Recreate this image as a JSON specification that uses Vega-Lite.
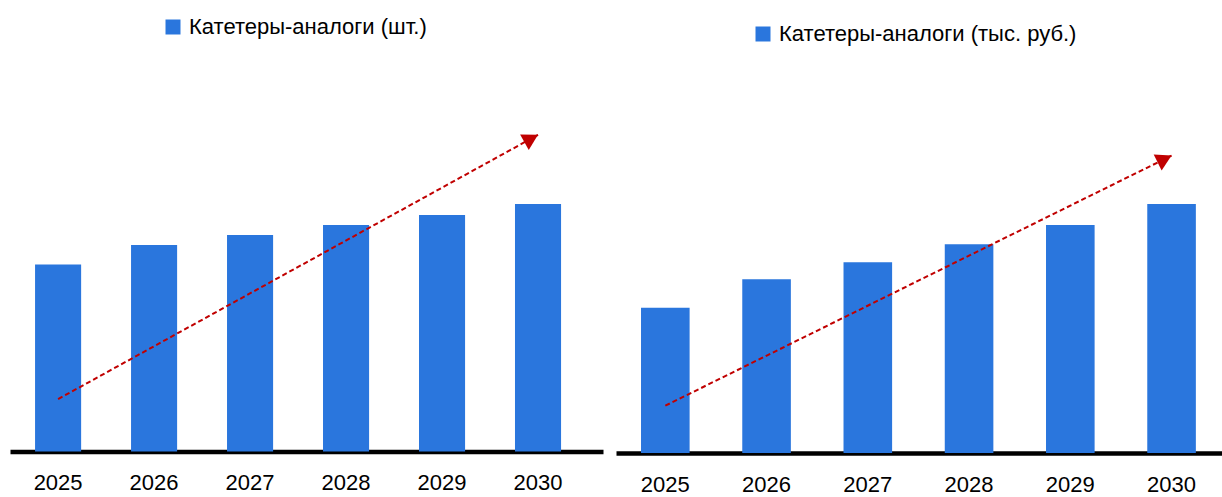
{
  "$schema": "https://vega.github.io/schema/vega-lite/v6.json",
  "padding": {"left": 10, "top": 10, "right": 0, "bottom": 0},
  "autosize": {"type": "pad"},
  "background": "white",
  "spacing": 13,
  "config": {
    "view": {"stroke": null},
    "font": "Liberation Sans",
    "axis": {"domainColor": "black", "domainWidth": 4.5, "ticks": false, "tickSize": 0, "labelFontSize": 22, "labelFont": "Liberation Sans", "labelColor": "black", "labelPadding": 21, "labelAngle": 0, "grid": false, "title": null},
    "legend": {"symbolType": "square", "symbolSize": 225, "symbolStrokeWidth": 0, "labelFontSize": 22, "labelFont": "Liberation Sans", "labelColor": "black", "labelOffset": 5, "padding": 0, "labelLimit": 600, "title": null}
  },
  "datasets": {
    "left_bars": [
      {"year": "2025", "value": 187, "series": "Катетеры-аналоги (шт.)"},
      {"year": "2026", "value": 206.5, "series": "Катетеры-аналоги (шт.)"},
      {"year": "2027", "value": 216.5, "series": "Катетеры-аналоги (шт.)"},
      {"year": "2028", "value": 226.5, "series": "Катетеры-аналоги (шт.)"},
      {"year": "2029", "value": 236.5, "series": "Катетеры-аналоги (шт.)"},
      {"year": "2030", "value": 247.5, "series": "Катетеры-аналоги (шт.)"}
    ],
    "left_trend": [
      {"year": "2025", "value": 52.4},
      {"year": "2030", "value": 316.7}
    ],
    "right_bars": [
      {"year": "2025", "value": 145.3, "series": "Катетеры-аналоги (тыс. руб.)"},
      {"year": "2026", "value": 173.7, "series": "Катетеры-аналоги (тыс. руб.)"},
      {"year": "2027", "value": 190.7, "series": "Катетеры-аналоги (тыс. руб.)"},
      {"year": "2028", "value": 208.7, "series": "Катетеры-аналоги (тыс. руб.)"},
      {"year": "2029", "value": 228, "series": "Катетеры-аналоги (тыс. руб.)"},
      {"year": "2030", "value": 249, "series": "Катетеры-аналоги (тыс. руб.)"}
    ],
    "right_trend": [
      {"year": "2025", "value": 47.3},
      {"year": "2030", "value": 297.4}
    ]
  },
  "resolve": {"scale": {"color": "independent"}, "legend": {"color": "independent"}},
  "hconcat": [
    {
      "width": 593,
      "height": 441.5,
      "layer": [
        {
          "data": {"name": "left_bars"},
          "mark": {"type": "bar", "color": "#2A76DD"},
          "encoding": {
            "x": {"field": "year", "type": "ordinal", "scale": {"paddingInner": 0.52, "paddingOuter": 0.349, "align": 0.374}},
            "y": {"field": "value", "type": "quantitative", "scale": {"domain": [0, 441.5], "nice": false, "zero": true}, "axis": null},
            "color": {"field": "series", "type": "nominal", "scale": {"range": ["#2A76DD"]}, "legend": {"orient": "none", "legendX": 152, "legendY": 6}}
          }
        },
        {
          "data": {"name": "left_trend"},
          "mark": {"type": "line", "color": "#C00000", "strokeWidth": 2, "strokeDash": [5, 3]},
          "encoding": {
            "x": {"field": "year", "type": "ordinal"},
            "y": {"field": "value", "type": "quantitative"}
          }
        },
        {
          "data": {"name": "left_trend"},
          "transform": [{"filter": "datum.year == '2030'"}],
          "mark": {"type": "point", "shape": "triangle-right", "filled": true, "size": 320, "angle": 331.1, "color": "#C00000", "opacity": 1, "xOffset": -6.8, "yOffset": 3.75},
          "encoding": {
            "x": {"field": "year", "type": "ordinal"},
            "y": {"field": "value", "type": "quantitative"}
          }
        }
      ]
    },
    {
      "width": 606,
      "height": 443,
      "layer": [
        {
          "data": {"name": "right_bars"},
          "mark": {"type": "bar", "color": "#2A76DD"},
          "encoding": {
            "x": {"field": "year", "type": "ordinal", "scale": {"paddingInner": 0.52, "paddingOuter": 0.2526, "align": 0.489}},
            "y": {"field": "value", "type": "quantitative", "scale": {"domain": [0, 443], "nice": false, "zero": true}, "axis": null},
            "color": {"field": "series", "type": "nominal", "scale": {"range": ["#2A76DD"]}, "legend": {"orient": "none", "legendX": 136, "legendY": 13}}
          }
        },
        {
          "data": {"name": "right_trend"},
          "mark": {"type": "line", "color": "#C00000", "strokeWidth": 2, "strokeDash": [5, 3]},
          "encoding": {
            "x": {"field": "year", "type": "ordinal"},
            "y": {"field": "value", "type": "quantitative"}
          }
        },
        {
          "data": {"name": "right_trend"},
          "transform": [{"filter": "datum.year == '2030'"}],
          "mark": {"type": "point", "shape": "triangle-right", "filled": true, "size": 320, "angle": 333.7, "color": "#C00000", "opacity": 1, "xOffset": -6.95, "yOffset": 3.43},
          "encoding": {
            "x": {"field": "year", "type": "ordinal"},
            "y": {"field": "value", "type": "quantitative"}
          }
        }
      ]
    }
  ]
}
